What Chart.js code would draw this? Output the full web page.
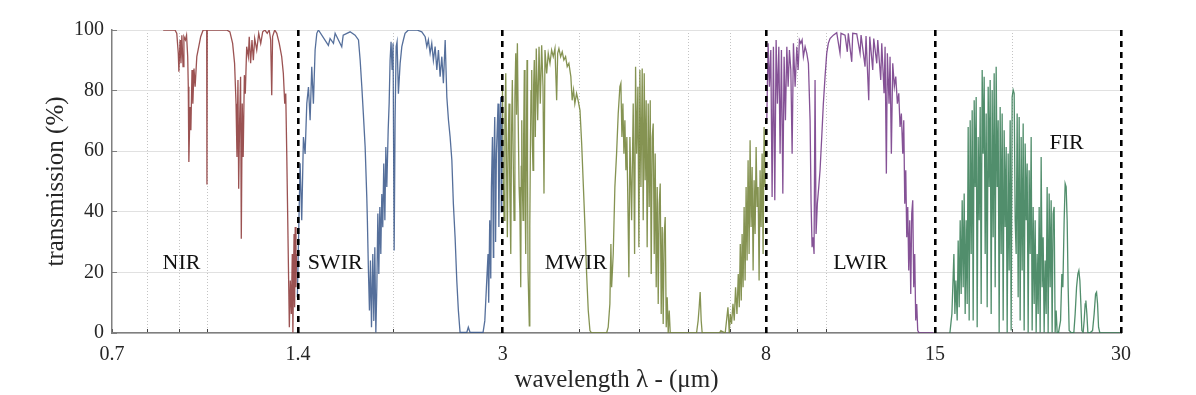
<!DOCTYPE html>
<html>
<head>
<meta charset="utf-8">
<script src="https://cdn.jsdelivr.net/npm/chart.js@4.4.1/dist/chart.umd.min.js"></script>
<style>
  html, body { margin: 0; padding: 0; background: #fff; }
</style>
</head>
<body>
<canvas id="bandChart" width="1196" height="395"></canvas>
<script>
// axis ticks (log axis, custom majors)
const xTicks = [0.7, 0.8, 0.9, 1, 1.4, 2, 3, 4, 5, 6, 7, 8, 9, 10, 15, 20, 30];
const xLabels = [0.7, 1.4, 3, 8, 15, 30];
const bandEdges = [1.4, 3, 8, 15, 30];
const yTicks = [0, 20, 40, 60, 80, 100];

// band names and where they sit (wavelength, transmission)
const bandNames = ["NIR", "SWIR", "MWIR", "LWIR", "FIR"];
const bandLabelX = [0.907, 1.607, 3.94, 11.37, 24.5];
const bandLabelY = [23, 23, 23, 23, 62.6];

// NIR
const nirWl = [0.847,0.885,0.891,0.896,0.898,0.902,0.905,0.908,0.912,0.915,0.920,0.924,0.928,0.930,0.932,0.936,0.939,0.943,0.946,0.950,
  0.954,0.960,0.967,0.974,0.983,0.996,0.997,0.998,1.073,1.086,1.097,1.105,1.111,1.115,1.119,1.122,1.126,1.130,1.133,1.137,
  1.141,1.146,1.150,1.156,1.163,1.167,1.173,1.179,1.185,1.191,1.200,1.209,1.218,1.227,1.237,1.248,1.257,1.264,1.269,1.273,
  1.283,1.293,1.305,1.317,1.325,1.332,1.337,1.342,1.347,1.352,1.355,1.360,1.365,1.370,1.373,1.379,1.382,1.385,1.389,1.392];
const nirT = [100,100,98.9,92.3,86.2,96.7,89,98.3,87.9,97.8,96.7,98.3,91.2,81.3,56.4,74.6,66.9,86.8,75.7,87.3,
  81.3,91.2,94.5,97.8,100,100,49,100,100,99.4,95.6,89,75.7,58.1,83.5,47.6,70.2,84.6,31.1,75.7,
  58.1,85.1,79,94.5,91.2,97.8,89,96.7,90,97.2,93.4,98.9,95.6,99.4,100,98.9,100,96.7,78.5,97.8,
  100,98.9,95.6,91.2,85.7,75.7,79,59.2,37.2,15.1,1.9,17.3,6.3,26.1,0.2,32.7,8.5,35,15.1,26.1];

// SWIR
const swirWl = [1.396,1.4105,1.419,1.428,1.437,1.446,1.455,1.464,1.473,1.482,1.4915,1.501,1.510,1.567,1.577,1.597,1.607,1.647,1.656,1.699,
  1.731,1.753,1.764,1.775,1.785,1.797,1.808,1.812,1.819,1.826,1.833,1.840,1.849,1.856,1.863,1.870,1.877,1.884,1.891,1.898,
  1.905,1.912,1.919,1.926,1.934,1.941,1.948,1.958,1.965,1.972,1.979,1.987,1.994,2.002,2.009,2.017,2.024,2.034,2.047,2.060,
  2.072,2.085,2.111,2.178,2.219,2.247,2.261,2.274,2.289,2.303,2.317,2.332,2.347,2.361,2.376,2.391,2.405,2.421,2.436,2.451,
  2.466,2.482,2.496,2.512,2.528,2.543,2.559,2.624,2.639,2.656,2.788,2.806,2.823,2.840,2.847,2.858,2.869,2.876,2.887,2.897,
  2.901,2.912,2.921,2.930,2.948,2.957,2.967,2.978,2.984,2.989];
const swirT = [11.8,56,37.2,64.7,59.1,75.7,81.2,70.2,87.9,75.7,93.4,98.9,100,94.9,97.2,95.6,98.9,94.5,98.3,99.4,
  98.3,96.7,90,81.2,72.4,61.4,44.9,37.2,20.7,7.4,23.9,1.9,26.1,4,28.3,0.2,15.1,39.4,19.5,41.6,
  26.1,45.9,34.9,55.9,37.2,61.4,48.2,66.9,75.7,90,96.1,86.8,95.6,27.2,70.2,94.5,96.1,79,88.9,94.5,
  96.7,98.9,100,100,99.4,97.8,94.5,96.7,92.3,95.6,90,94.5,86.8,93.4,84.6,91.2,82.4,96.7,77.9,70.2,
  64.7,57,42.7,31.7,17.3,7.4,0.2,0.2,1.9,0.2,0.2,4,15.1,26.1,10,37.2,18,48.2,64.7,25,
  53.7,71.3,30,59.2,75.7,35,64.7,77.9,40,70.2];

// MWIR
const mwirWl = [2.996,3.005,3.015,3.024,3.034,3.043,3.052,3.061,3.071,3.081,3.091,3.100,3.109,3.119,3.129,3.139,3.149,3.158,3.168,3.178,
  3.188,3.198,3.208,3.214,3.220,3.228,3.236,3.243,3.251,3.259,3.268,3.276,3.284,3.290,3.296,3.312,3.318,3.325,3.333,3.342,
  3.350,3.358,3.366,3.374,3.387,3.399,3.417,3.434,3.450,3.468,3.485,3.498,3.511,3.533,3.554,3.577,3.599,3.621,3.644,3.667,3.681,
  3.698,3.722,3.744,3.767,3.791,3.814,3.838,3.866,3.885,3.905,3.924,3.949,3.972,4.000,4.025,4.049,4.075,4.100,4.125,4.151,
  4.177,4.417,4.443,4.471,4.488,4.500,4.527,4.555,4.584,4.612,4.641,4.658,4.676,4.693,4.711,4.728,4.746,4.763,4.781,4.799,
  4.817,4.848,4.877,4.902,4.920,4.939,4.963,4.981,5.000,5.019,5.043,5.062,5.081,5.099,5.118,5.137,5.157,5.176,5.196,5.215,
  5.235,5.254,5.274,5.293,5.313,5.333,5.353,5.373,5.393,5.413,5.433,5.453,5.474,5.494,5.515,5.535,5.556,5.577,5.598,6.174,
  6.211,6.235,6.258,6.282,6.305,6.725,6.759,6.870,6.940,6.974,7.000,7.034,7.071,7.105,7.140,7.177,7.212,7.239,7.266,7.293,
  7.316,7.343,7.371,7.398,7.426,7.453,7.481,7.509,7.537,7.565,7.594,7.622,7.650,7.679,7.708,7.736,7.765,7.794,7.823,7.852,
  7.882,7.911,7.941,7.970];
const mwirT = [81.3,52,37.2,70,85.7,55,31.6,62,75.7,45,26.1,66,83.5,58,37.2,78,92.3,72,95.6,70,
  48.2,40,15.1,55,70.2,48,37.2,65,86.8,50,26.1,62,90.1,55,20.6,2.4,35,59.2,80,86.8,
  62,53.7,82,90.1,64.7,93.9,70.2,94.5,75.7,95,81.3,46,93.4,85.7,92.3,89,93.4,91.2,93.9,76.8,92.3,
  93.9,91.2,92.8,90.1,91.2,87.9,89,84.6,76.8,80.2,75.7,79.1,76.8,73.5,62.5,49.3,35,19.5,7.4,0.8,
  0,0,1.9,9.6,29.4,15.1,26.1,48.2,59.2,72.4,81.3,82.4,64.7,75.7,59.2,70.2,53.7,64.7,42.7,18.4,
  64.7,37.2,75.7,26.1,87.9,59.2,81.3,28.3,86.8,48.2,87.3,37.2,85.7,50.4,76.8,28.3,75.7,41.6,76.8,19.5,
  64.7,69.1,26.1,59.2,15.1,48.2,9.6,42.7,49.3,6.3,35,3,32.7,38.3,1.9,11.8,0,7.4,0,0,
  4.1,8.5,13.5,4.1,0,0,0.8,0,8.5,0,6.3,3,9.6,4.1,15.1,6.3,19.5,8.5,29.4,10.7,
  32.7,15.1,41.6,17.3,48.2,23.9,57,26.1,63.6,35,54.8,20.6,50.4,32.7,61.4,41.6,48.2,17.3,53.7,35,
  59.2,26.1,68,48.2];

// LWIR
const lwirWl = [8.021,8.060,8.099,8.141,8.181,8.221,8.263,8.304,8.344,8.388,8.428,8.470,8.514,8.555,8.597,8.642,8.684,8.726,8.772,8.814,
  8.857,8.913,8.970,9.013,9.057,9.104,9.148,9.192,9.251,9.309,9.365,9.424,9.459,9.494,9.529,9.564,9.600,9.636,9.682,9.733,
  9.780,9.842,9.901,9.964,10.026,10.086,10.150,10.276,10.407,10.535,10.574,10.734,10.826,10.866,11.005,11.046,11.212,11.352,11.394,11.565,
  11.607,11.725,11.769,11.901,11.945,12.080,12.125,12.261,12.307,12.413,12.460,12.520,12.567,12.646,12.693,12.755,12.821,12.898,12.966,13.044,
  13.112,13.175,13.239,13.308,13.358,13.408,13.458,13.508,13.558,13.608,13.659,13.710,13.761,13.812,13.863,13.915,13.967,14.019,14.071,14.155,
  14.912];
const lwirT = [70.2,95.6,81.3,93.4,44.9,94.5,43.8,96.7,75.7,94.5,59.2,93.4,46,91.2,70.2,94.5,81.3,93.4,86.8,59.2,
  95.6,81.3,94.5,86.8,96.7,95.6,96.7,91.2,94.5,92.3,89,70.2,42.7,28.3,31.6,26.1,83.5,32.7,42.7,48.2,
  53.7,64.7,75.7,84.6,92.3,95.6,97.2,98.3,99.1,92.3,98.9,98.3,92.8,98.9,89.5,98.9,98.7,92.3,98.3,87.9,
  98,76.8,97.8,86.8,97.2,89,96.7,83.5,95.6,79.1,94.5,52.6,92.3,75.7,91.2,59.2,89,81.3,84.6,75.7,
  79.1,68,72.4,59.2,70.2,42.7,53.7,31.6,41.6,20.6,37.2,12.9,39.4,43.8,15.1,26.1,4.1,9.6,0.8,0,
  0];

// FIR
const firWl = [15.862,15.981,16.100,16.160,16.220,16.299,16.359,16.421,16.482,16.543,16.605,16.667,16.729,16.791,16.854,16.917,16.980,17.043,17.107,17.171,
  17.235,17.299,17.364,17.428,17.493,17.559,17.624,17.690,17.756,17.822,17.889,17.955,18.022,18.090,18.157,18.225,18.293,18.361,18.429,18.498,
  18.567,18.636,18.706,18.776,18.846,18.916,18.987,19.057,19.128,19.200,19.271,19.343,19.415,19.488,19.561,19.634,19.707,19.780,19.854,19.928,
  20.002,20.077,20.152,20.227,20.303,20.378,20.454,20.531,20.607,20.684,20.761,20.839,20.916,20.994,21.073,21.151,21.230,21.309,21.389,21.469,
  21.549,21.629,21.710,21.791,21.872,21.954,22.035,22.118,22.200,22.283,22.366,22.449,22.533,22.617,22.702,22.786,22.871,22.957,23.042,23.128,
  23.214,23.301,23.388,23.475,23.563,23.651,23.774,23.952,24.069,24.159,24.276,24.366,24.457,24.549,24.640,24.732,24.954,25.170,25.292,25.424,
  25.548,25.643,25.739,25.835,25.931,26.057,26.154,26.252,26.320,26.418,26.517,26.715,26.985,27.146,27.288,27.389,27.492,27.594,27.728,29.871];
const firT = [0,6.3,26.1,6.3,17.3,4.1,30.5,8.5,37.2,12.9,43.8,15.1,46,6.3,37.2,9.6,68,4.1,70.2,26.1,
  73.5,4.1,76.8,48.2,77.9,1.9,64.7,37.2,74.6,9.6,86.8,59.2,84.6,26.1,72.4,8.5,81.3,48.2,83.5,6.3,
  80.2,31.6,85.7,15.1,87.9,48.2,70.2,0.2,74.6,26.1,72.4,4.1,66.9,35,61.4,0.2,59.2,20.6,70.2,0.8,
  77.9,80.2,79.1,37.2,26.1,72.4,11.8,71.3,4.1,64.7,20.6,69.1,0.8,62.5,37.2,55.9,0.2,53.7,26.1,64.7,
  0.8,41.6,9.6,37.2,0.2,26.1,6.3,41.6,0.2,58.1,15.1,31.6,0.2,23.9,6.3,48.2,0,46,15.1,43.8,
  0.2,39.4,41.6,0.2,7.4,0.2,0.2,4.1,19.5,15.1,37.2,49.3,48.2,37.2,15.1,0.8,0,0.2,6.3,15.1,
  19.5,20.6,17.3,9.6,0.8,0.2,4.1,9.6,10.7,6.3,0.2,0,0.8,6.3,12.9,13.5,9.6,1.9,0,0];

const serif = '"Liberation Serif", "Times New Roman", serif';
Chart.defaults.font.family = serif;
Chart.defaults.color = "#262626";

function toPoints(wl, t) {
  return wl.map((w, i) => ({ x: w, y: t[i] }));
}

function band(label, wl, t, color) {
  return {
    label: label,
    data: toPoints(wl, t),
    borderColor: color,
    borderWidth: 1.3,
    pointRadius: 0,
    tension: 0,
    fill: false,
  };
}

// band names drawn inside the plot
const bandLabels = {
  id: "bandLabels",
  afterDatasetsDraw(chart) {
    const { ctx, scales } = chart;
    ctx.save();
    ctx.font = "22px " + serif;
    ctx.fillStyle = "#111";
    ctx.textAlign = "center";
    ctx.textBaseline = "middle";
    bandNames.forEach((name, i) => {
      ctx.fillText(name, scales.x.getPixelForValue(bandLabelX[i]), scales.y.getPixelForValue(bandLabelY[i]));
    });
    ctx.restore();
  },
};

const isMinor = (c) => c.tick && !xLabels.includes(c.tick.value);

new Chart(document.getElementById("bandChart"), {
  type: "line",
  data: {
    datasets: [
      band("NIR", nirWl, nirT, "rgba(138,52,52,0.85)"),
      band("SWIR", swirWl, swirT, "rgba(55,86,138,0.85)"),
      band("MWIR", mwirWl, mwirT, "rgba(112,128,52,0.85)"),
      band("LWIR", lwirWl, lwirT, "rgba(112,52,132,0.85)"),
      band("FIR", firWl, firT, "rgba(50,122,82,0.85)"),
    ],
  },
  options: {
    responsive: false,
    animation: false,
    events: [],
    layout: { padding: { left: 0, right: 75, top: 30, bottom: 0 }, autoPadding: false },
    plugins: { legend: { display: false }, tooltip: { enabled: false } },
    scales: {
      x: {
        type: "logarithmic",
        min: 0.7,
        max: 30,
        position: "bottom",
        afterBuildTicks: (s) => { s.ticks = xTicks.map((v) => ({ value: v })); },
        afterFit: (s) => { s.height = 62; },
        ticks: {
          autoSkip: false,
          maxRotation: 0,
          padding: 14,
          font: { size: 20 },
          callback: (v) => (xLabels.includes(v) ? String(v) : ""),
        },
        grid: {
          color: (c) => (isMinor(c) ? "#c4c4c4" : "rgba(0,0,0,0)"),
          lineWidth: 1,
          tickLength: -4,
          tickColor: "#444",
        },
        border: { color: "#7f7f7f", width: 1.5, dash: (c) => (isMinor(c) ? [1, 2] : []) },
        title: { display: true, text: "wavelength λ - (μm)", font: { size: 25 }, padding: { top: 0, bottom: 0 } },
      },
      xBand: {
        type: "logarithmic",
        min: 0.7,
        max: 30,
        position: "bottom",
        afterBuildTicks: (s) => { s.ticks = bandEdges.map((v) => ({ value: v })); },
        afterFit: (s) => { s.height = 0; },
        ticks: { display: false },
        grid: { z: 1, color: "#000", lineWidth: 2.6, drawTicks: false },
        border: { display: false, dash: [6, 5] },
      },
      y: {
        min: 0,
        max: 100,
        position: "left",
        afterBuildTicks: (s) => { s.ticks = yTicks.map((v) => ({ value: v })); },
        afterFit: (s) => { s.width = 112; },
        ticks: { padding: 13, font: { size: 20 } },
        grid: { color: "#e1e1e1", lineWidth: 1, tickLength: -5, tickColor: "#7f7f7f" },
        border: { color: "#7f7f7f", width: 1.5 },
        title: { display: true, text: "transmission (%)", font: { size: 25 }, padding: { top: 41, bottom: 0 } },
      },
    },
  },
  plugins: [bandLabels],
});
</script>
</body>
</html>
